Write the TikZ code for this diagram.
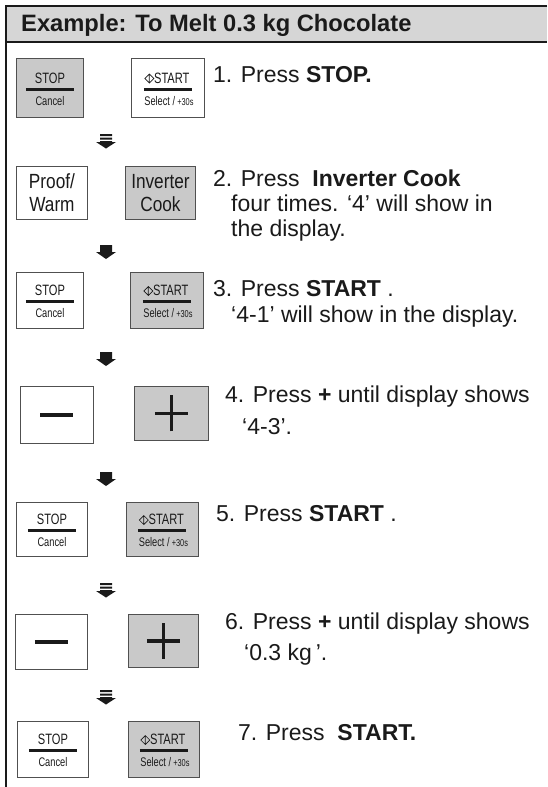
\documentclass[tikz,border=0pt]{standalone}
\usepackage{fontspec}
\setmainfont{Liberation Sans}
\newfontfamily\btnfont[FakeStretch=0.74]{Liberation Sans}
\newfontfamily\keyfont[FakeStretch=0.84]{Liberation Sans}
\usetikzlibrary{calc}
\definecolor{HeadGray}{RGB}{214,214,214}
\definecolor{KeyGray}{RGB}{201,201,201}
\definecolor{EdgeGray}{RGB}{80,80,80}
\definecolor{Ink}{RGB}{26,26,26}

\tikzset{
  frameline/.style={line width=1.6pt, draw=Ink},
  keybox/.style={draw=EdgeGray, line width=0.9pt, fill=white, inner sep=0pt,
                 align=center, anchor=north west, text=Ink},
  keyon/.style={keybox, fill=KeyGray},
  keytop/.style={font=\btnfont\fontsize{15}{15}\selectfont, inner sep=0pt, text=Ink},
  keysub/.style={font=\btnfont\fontsize{12.5}{12.5}\selectfont, inner sep=0pt, text=Ink},
  keybig/.style={font=\keyfont\fontsize{20.5}{23}\selectfont},
  keybar/.style={line width=3pt, draw=Ink},
  signbar/.style={line width=3.6pt, draw=Ink},
  steptext/.style={anchor=base west, inner sep=0pt, text=Ink,
                   font=\fontsize{23}{23}\selectfont},
  solidarrow/.pic={\fill[Ink] (-6,0) rectangle (6,7) (-10,7) -- (10,7) -- (0,14) -- cycle;},
  bararrow/.pic={\fill[Ink] (-6,0) rectangle (6,2) (-6,3.5) rectangle (6,5.5)
                 (-6,7) rectangle (6,8) (-10,8) -- (10,8) -- (0,14.5) -- cycle;},
}

% start mark: diamond with a stroke
\newcommand{\startmark}{\tikz[baseline=0pt,line width=0.7pt,draw=Ink]
  {\draw (0pt,4.5pt) -- (4.5pt,9pt) -- (9pt,4.5pt) -- (4.5pt,0pt) -- cycle
         (4.5pt,0pt) -- (4.5pt,9pt);}}

% keys: name, corner, box style
\newcommand{\stopkey}[3]{%
  \node[#3] (#1) at #2 {};
  \node[keytop] (#1-top) at ([yshift=10pt]#1.center) {STOP};
  \draw[keybar] ([xshift=-24pt,yshift=-1.5pt]#1.center) -- ([xshift=24pt,yshift=-1.5pt]#1.center);
  \node[keysub] (#1-sub) at ([yshift=-13pt]#1.center) {Cancel};
}
\newcommand{\startkey}[3]{%
  \node[#3] (#1) at #2 {};
  \node[keytop] (#1-top) at ([xshift=-1pt,yshift=10pt]#1.center) {\startmark START};
  \draw[keybar] ([xshift=-24pt,yshift=-1.5pt]#1.center) -- ([xshift=24pt,yshift=-1.5pt]#1.center);
  \node[keysub] (#1-sub) at ([xshift=1pt,yshift=-13pt]#1.center)
       {Select /\,{\fontsize{10}{10}\selectfont+30s}};
}
\newcommand{\minuskey}[3]{%
  \node[#3] (#1) at #2 {};
  \draw[signbar] ([xshift=-16.5pt]#1.center) -- ([xshift=16.5pt]#1.center);
}
\newcommand{\pluskey}[3]{%
  \node[#3] (#1) at #2 {};
  \draw[signbar] ([xshift=-16.5pt]#1.center) -- ([xshift=16.5pt]#1.center)
                 ([yshift=-18pt]#1.center) -- ([yshift=18pt]#1.center);
}

\begin{document}
\begin{tikzpicture}[x=1pt,y=-1pt]
  \useasboundingbox (0,0) rectangle (547,787);

  % header
  \fill[HeadGray] (6,6) rectangle (547,42);
  \draw[frameline] (547,6) -- (6,6) -- (6,787);
  \draw[frameline] (6,42) -- (547,42);
  \node[anchor=base west, inner sep=0pt, text=Ink,
        font=\bfseries\fontsize{23.7}{23.7}\selectfont] (title) at (21,31)
        {Example: To Melt 0.3 kg Chocolate};

  % step 1
  \stopkey{stopA}{(16,58)}{keyon, minimum width=67pt, minimum height=59pt}
  \startkey{startA}{(131,58)}{keybox, minimum width=73pt, minimum height=59pt}
  \node[steptext] (stepA) at (213,82) {1. Press \textbf{STOP.}};
  \pic at (106,134) {bararrow};

  % step 2
  \node[keybox, keybig, minimum width=71pt, minimum height=53pt] (proof) at (16,166) {Proof/\\Warm};
  \node[keyon, keybig, minimum width=70pt, minimum height=53pt] (inverter) at (125,166) {Inverter\\Cook};
  \node[steptext] (stepB) at (213,186) {2. Press \ \textbf{Inverter Cook}};
  \node[steptext] (stepB2) at (231,211) {four times. ‘4’ will show in};
  \node[steptext] (stepB3) at (231,236) {the display.};
  \pic at (106,245) {solidarrow};

  % step 3
  \stopkey{stopB}{(16,272)}{keybox, minimum width=67pt, minimum height=56pt}
  \startkey{startB}{(130,272)}{keyon, minimum width=73pt, minimum height=56pt}
  \node[steptext] (stepC) at (213,296) {3. Press \textbf{START} .};
  \node[steptext] (stepC2) at (231,322) {‘4-1’ will show in the display.};
  \pic at (106,352) {solidarrow};

  % step 4
  \minuskey{minusA}{(20,386)}{keybox, minimum width=73pt, minimum height=57pt}
  \pluskey{plusA}{(134,386)}{keyon, minimum width=74pt, minimum height=54pt}
  \node[steptext] (stepD) at (225,402) {4. Press \textbf{+} until display shows};
  \node[steptext] (stepD2) at (242,434) {‘4-3’.};
  \pic at (106,472) {solidarrow};

  % step 5
  \stopkey{stopC}{(16,502)}{keybox, minimum width=71pt, minimum height=54pt}
  \startkey{startC}{(126,502)}{keyon, minimum width=72pt, minimum height=54pt}
  \node[steptext] (stepE) at (216,521) {5. Press \textbf{START} .};
  \pic at (106,583) {bararrow};

  % step 6
  \minuskey{minusB}{(15,614)}{keybox, minimum width=72pt, minimum height=55pt}
  \pluskey{plusB}{(128,614)}{keyon, minimum width=70pt, minimum height=53pt}
  \node[steptext] (stepF) at (225,629) {6. Press \textbf{+} until display shows};
  \node[steptext] (stepF2) at (244,660) {‘0.3 kg\,’.};
  \pic at (106,690) {bararrow};

  % step 7
  \stopkey{stopD}{(17,721)}{keybox, minimum width=71pt, minimum height=56pt}
  \startkey{startD}{(128,721)}{keyon, minimum width=71pt, minimum height=56pt}
  \node[steptext] (stepG) at (238,740) {7. Press \ \textbf{START.}};
\end{tikzpicture}
\end{document}
